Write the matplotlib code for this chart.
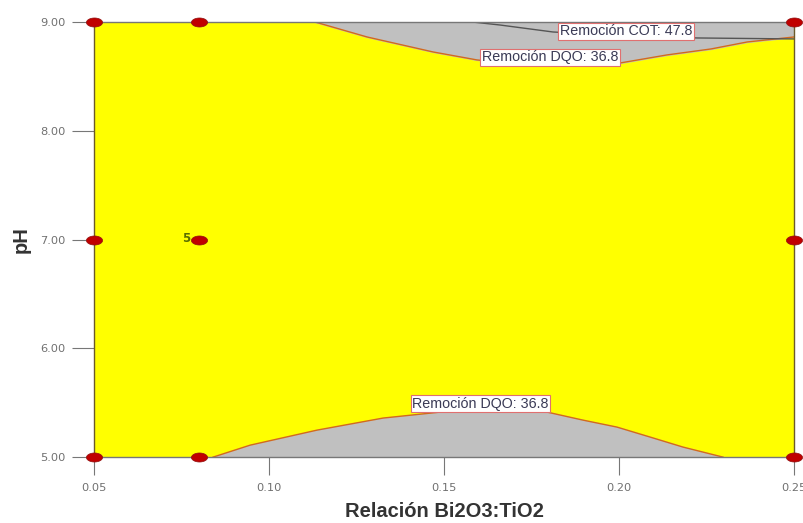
import numpy as np
import matplotlib
matplotlib.use("Agg")
from matplotlib import pyplot as plt
from matplotlib.path import Path

# design points (Bi2O3:TiO2 ratio, pH)
pts_x = [0.05, 0.08, 0.25, 0.05, 0.08, 0.25, 0.05, 0.08, 0.25]
pts_y = [9.0, 9.0, 9.0, 7.0, 7.0, 7.0, 5.0, 5.0, 5.0]

# upper DQO 36.8 boundary
dqo_top_x = [0.1131, 0.128, 0.1469, 0.1594, 0.1737, 0.1831, 0.1926, 0.2003, 0.2137, 0.2263, 0.2366, 0.25]
dqo_top_y = [9.0, 8.862, 8.724, 8.651, 8.605, 8.598, 8.605, 8.623, 8.697, 8.752, 8.816, 8.862]

# lower DQO 36.8 boundary
dqo_bot_x = [0.084, 0.0946, 0.1137, 0.1326, 0.1517, 0.166, 0.1794, 0.1897, 0.1994, 0.2089, 0.2183, 0.2297]
dqo_bot_y = [5.0, 5.110, 5.248, 5.359, 5.423, 5.423, 5.414, 5.340, 5.276, 5.184, 5.092, 5.0]

# COT 47.8 contour
cot_x = [0.158, 0.166, 0.1811, 0.20, 0.2223, 0.25]
cot_y = [9.0, 8.972, 8.908, 8.875, 8.853, 8.844]

xticks = [0.05, 0.10, 0.15, 0.20, 0.25]
yticks = [5.0, 6.0, 7.0, 8.0, 9.0]

plt.rcParams['font.family'] = ['Liberation Sans', 'DejaVu Sans']

fig = plt.figure(figsize=(8.04, 5.23), dpi=100)
ax = fig.add_axes([0.117, 0.126, 0.8706, 0.832])

ax.set_facecolor('#FFFF00')
ax.fill_between(dqo_top_x, dqo_top_y, 9.0, color='#C0C0C0', zorder=1)
ax.fill_between(dqo_bot_x, 5.0, dqo_bot_y, color='#C0C0C0', zorder=1)
ax.plot(dqo_top_x, dqo_top_y, color='#D2691E', lw=1.0, zorder=2)
ax.plot(dqo_bot_x, dqo_bot_y, color='#D2691E', lw=1.0, zorder=2)
ax.plot(cot_x, cot_y, color='#555555', lw=1.0, zorder=2)

box = dict(boxstyle='square,pad=0.12', fc='white', ec='#E07070', lw=0.8)
lab_kw = dict(fontsize=10.3, color='#3A3A55', ha='center', va='center', bbox=box, zorder=4)
ax.text(0.202, 8.913, 'Remoción COT: 47.8', **lab_kw)
ax.text(0.1803, 8.674, 'Remoción DQO: 36.8', **lab_kw)
ax.text(0.1604, 5.492, 'Remoción DQO: 36.8', **lab_kw)

# ellipse marker
t = np.linspace(0, 2 * np.pi, 40)
ell = Path(np.column_stack([np.cos(t), 0.56 * np.sin(t)]))
ax.scatter(pts_x, pts_y, marker=ell, s=135, color='#C00000', edgecolor='#901010',
           lw=0.5, zorder=5, clip_on=False)
ax.text(0.0774, 7.01, '5', fontsize=8.5, fontweight='bold', color='#5A6E00',
        ha='right', va='center', zorder=5, family='DejaVu Sans')

ax.set_xlim(0.05, 0.25)
ax.set_ylim(5.0, 9.0)
ax.set_xticks(xticks)
ax.set_xticklabels([f'{v:.2f}' for v in xticks], family='DejaVu Sans')
ax.set_yticks(yticks)
ax.set_yticklabels([f'{v:.2f}' for v in yticks], family='DejaVu Sans')
ax.tick_params(axis='both', direction='out', width=0.8, color='#777777',
               labelsize=8.2, labelcolor='#707070')
ax.tick_params(axis='x', length=13, pad=6)
ax.tick_params(axis='y', length=16, pad=4.5)

for side in ['left', 'right']:
    ax.spines[side].set_color('#6B5A2A')
    ax.spines[side].set_linewidth(1.0)
for side in ['top', 'bottom']:
    ax.spines[side].set_color('#777777')
    ax.spines[side].set_linewidth(1.0)

ax.set_xlabel('Relación Bi2O3:TiO2', fontsize=14.5, fontweight='bold', color='#333333', va='center')
ax.xaxis.set_label_coords(0.5, -0.126)
ax.set_ylabel('pH', fontsize=14.5, fontweight='bold', color='#333333', va='center')
ax.yaxis.set_label_coords(-0.104, 0.5)

fig.savefig('out.png', dpi=100)
